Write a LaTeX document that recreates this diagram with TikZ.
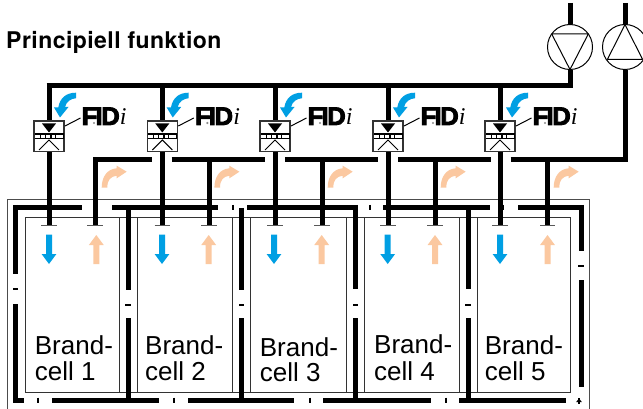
\documentclass[tikz,border=0pt]{standalone}
\usepackage{fontspec}
\setmainfont{Liberation Sans}
\newfontfamily\heavyfont[LetterSpace=2]{TeX Gyre Heros}
\newfontfamily\fidfont[BoldFeatures={FakeBold=3.5}]{Liberation Sans}
\newfontfamily\serifit{Liberation Serif}
\tikzset{
  x=1pt,y=-1pt,
  duct/.style={line width=5pt,line cap=butt,line join=miter},
  pipe/.style={line width=5pt,line cap=butt,line join=miter},
  frameline/.style={draw=black!70,line width=1pt},
  cellline/.style={draw=black!80,line width=1pt},
  tbar/.style={draw=black!65,line width=1pt},
  hdash/.style={line width=2pt},
  vdash/.style={line width=2pt},
  celltext/.style={anchor=base west,font=\fontsize{26}{26}\selectfont,inner sep=0pt},
  fidtext/.style={anchor=base west,inner sep=0pt,font=\fidfont\bfseries\fontsize{25.5}{25.5}\selectfont},
}
\definecolor{flowblue}{HTML}{009FE3}
\definecolor{flowwarm}{HTML}{FBC8A0}
\newcommand{\fidmark}{F\kern-.07em I\kern-.05em D\kern.01em{\serifit\itshape\mdseries\fontsize{24}{24}\selectfont i}}
\newcommand{\valvegroup}[2]{%
  \node[draw=black!80,line width=1.2pt,fill=white,minimum width=30pt,minimum height=30.5pt,inner sep=0pt] (v#2) at (#1,136.2) {};
  \draw[pipe] (#1,85.7) -- (v#2.north);
  \fill (#1-7,123.5) -- (#1+7,123.5) -- (#1,132.5) -- cycle;
  \fill (#1-14.5,133.2) rectangle (#1+14.5,139.3);
  \foreach \a/\b in {-14/-9.5,-8/-4,-3/1,2.5/6,7/14}{\fill[white] (#1+\a,134.6) rectangle (#1+\b,137.9);}
  \draw[line width=1pt] (#1-10,150) -- (#1,140) -- (#1+10,150);
  \node[fidtext] (f#2) at (#1+32.5,125) {\fidmark};
  \draw[line width=1pt] (#1+16,126) -- (#1+31.5,118);
  \fill[black!45] (#1+45,123) circle (1.2pt);
}
\newcommand{\flowarrows}[3]{%
  \fill[flowblue] (#1-3,234.7) -- (#1+3,234.7) -- (#1+3,254) -- (#1+7.4,254) -- (#1,264) -- (#1-7.4,254) -- (#1-3,254) -- cycle;
  \fill[flowwarm] (#2-3,264) -- (#2+3,264) -- (#2+3,245) -- (#2+7.4,245) -- (#2,235) -- (#2-7.4,245) -- (#2-3,245) -- cycle;
  \begin{scope}[xshift=#3 pt]
  \fill[flowblue] (76,92.7) -- (76,98.2) .. controls (70.5,98.8) and (66.5,101.5) .. (65,107) -- (68.5,107) -- (60,117.5) -- (54,107.5) -- (58.3,107.3) .. controls (60,98) and (66,92.7) .. (76,92.7) -- cycle;
  \fill[flowwarm] (101.7,187.7) -- (107.3,187.7) .. controls (107.3,180) and (110.5,176.5) .. (116.7,175.7) -- (116.7,178.3) -- (126.7,171.7) -- (116.7,165.7) -- (116.7,168.3) .. controls (107,169) and (101.7,177) .. (101.7,187.7) -- cycle;
  \end{scope}
}
\begin{document}
\begin{tikzpicture}
\useasboundingbox (0,0) rectangle (643,409);
\clip (0,0) rectangle (643,409);
\fill[white] (0,0) rectangle (643,409);

% building frame and cells
\draw[frameline] (7,409) -- (7,200) -- (589,200) -- (589,409);
\draw[cellline] (25,392.7) -- (25,217.3) -- (570.7,217.3) -- (570.7,392.7) -- cycle;
\foreach \xa/\xb in {119.3/137.3,232.7/250.7,346.7/364.7,459/477}{
  \draw[cellline] (\xa,217.3) -- (\xa,392.7) (\xb,217.3) -- (\xb,392.7);
}

% title
\node[anchor=base west,inner sep=0pt,font=\heavyfont\bfseries\fontsize{23}{24}\selectfont] (title) at (6,49) {Principiell funktion};

% fire-wall ducts
\draw[duct] (17,207.5) -- (82,207.5);
\draw[duct] (15.7,205) -- (15.7,274);
\draw[duct] (15.7,304) -- (15.7,400.4) -- (23.5,400.4);
\draw[duct] (112,207.5) -- (218,207.5);
\draw[duct] (128,207.5) -- (128,290);
\draw[duct] (128,318) -- (128,400);
\draw[duct] (247,207.5) -- (354,207.5);
\draw[duct] (241.7,208) -- (241.7,290);
\draw[duct] (241.7,318) -- (241.7,400);
\draw[duct] (355.7,205) -- (355.7,289);
\draw[duct] (355.7,318) -- (355.7,400);
\draw[duct] (383,207.5) -- (490,207.5);
\draw[duct] (468,207.5) -- (468,289);
\draw[duct] (468,318) -- (468,400);
\draw[duct] (518,207.5) -- (582.5,207.5);
\draw[duct] (581,205) -- (581,251);
\draw[duct] (581,280) -- (581,387);
\draw[duct] (52,400.4) -- (159,400.4);
\draw[duct] (188,400.4) -- (294,400.4);
\draw[duct] (323,400.4) -- (431,400.4);
\draw[duct] (459,400.4) -- (566,400.4);

% small marks in the duct gaps
\foreach \x/\y in {15.7/289,128/305,241.7/305,355.7/305,468/305,581/266}{
  \draw[hdash] (\x-2.7,\y) -- (\x+2.7,\y);
}
\foreach \x/\y in {233/207.5,370/207.5,503/207.5,38/400.4,174/400.4,310/400.4,446/400.4,579/401}{
  \draw[vdash] (\x,\y-2.7) -- (\x,\y+2.7);
}
\fill (579,398.5) -- (581.8,402) -- (576.2,402) -- cycle;

% supply main and pumps
\node[draw,circle,line width=1pt,minimum size=45pt,inner sep=0pt] (pa) at (570,47) {};
\node[draw,circle,line width=1pt,minimum size=45pt,inner sep=0pt] (pb) at (625,47) {};
\draw[line width=1pt,line join=round] (551.7,34) -- (588.3,34) -- (570,69.5) -- cycle;
\draw[line width=1pt,line join=round] (625,24.5) -- (642.5,59.3) -- (607.5,59.3) -- cycle;
\coordinate (ptop) at (570,3);
\coordinate (qtop) at (625,3);
\draw[pipe] (ptop) -- (pa.north);
\draw[pipe] (qtop) -- (pb.north);
\coordinate (smainl) at (46.5,85.7);
\draw[pipe] (smainl) -- (572.5,85.7);
\draw[pipe] (570,88.2) -- (pa.south);

% return main
\draw[pipe] (95,225) -- (95,159.3) -- (152,159.3);
\draw[pipe] (171.7,159.3) -- (265,159.3);
\draw[pipe] (285,159.3) -- (378,159.3);
\draw[pipe] (398,159.3) -- (490.7,159.3);
\draw[pipe] (510.7,159.3) -- (625,159.3) -- (pb.south);
\foreach \x in {209,322,435,547.7}{\draw[pipe] (\x,159.3) -- (\x,225);}

% valves, supply drops, T ends
\foreach \x/\n in {49/a,162.3/b,275/c,388/d,500/e}{
  \valvegroup{\x}{\n}
  \draw[pipe] (v\n.south) -- (\x,225);
  \draw[tbar] (\x-7.7,225.8) -- (\x+7.7,225.8);
}
\foreach \x in {95,209,322,435,547.7}{\draw[tbar] (\x-7.7,225.8) -- (\x+7.7,225.8);}

% flow arrows
\flowarrows{49}{96.3}{0}
\flowarrows{162}{208.7}{112.7}
\flowarrows{274}{321.7}{226}
\flowarrows{387.7}{435}{339}
\flowarrows{500}{547.5}{452}

% cell names
\node[celltext] (c1a) at (34.7,354) {Brand-};
\node[celltext] (c1b) at (34.7,380) {cell 1};
\node[celltext] (c2a) at (145,354) {Brand-};
\node[celltext] (c2b) at (145,380) {cell 2};
\node[celltext] (c3a) at (259.7,356) {Brand-};
\node[celltext] (c3b) at (259.7,381.7) {cell 3};
\node[celltext] (c4a) at (374,353.3) {Brand-};
\node[celltext] (c4b) at (374,380) {cell 4};
\node[celltext] (c5a) at (484.7,354) {Brand-};
\node[celltext] (c5b) at (484.7,380) {cell 5};
\end{tikzpicture}
\end{document}
